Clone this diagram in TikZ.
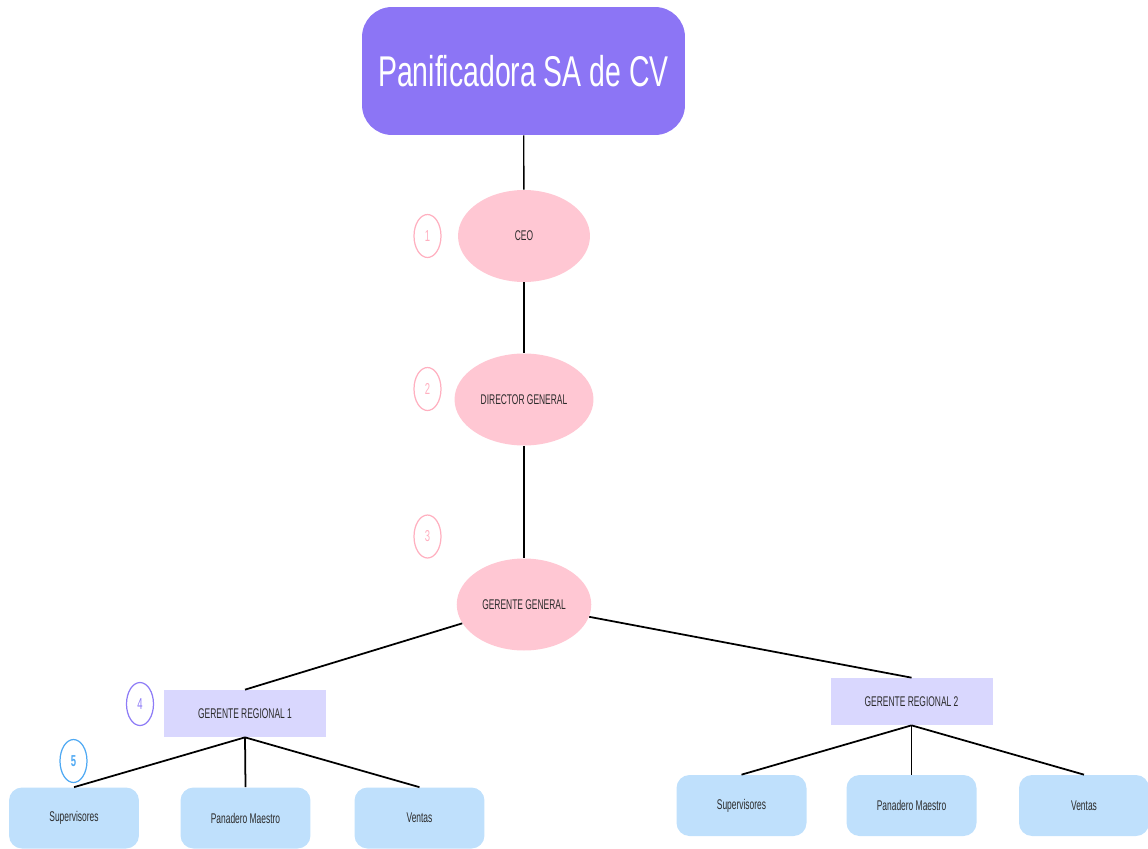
\documentclass[tikz,border=0pt]{standalone}
\usepackage{fontspec}
\usepackage{xcolor}
\usepackage{tikz}
\usetikzlibrary{shapes.geometric,positioning}

\setmainfont{Liberation Sans}
\newfontfamily\narrowfont[FakeStretch=0.6]{Liberation Sans}
\newfontfamily\bigfont[FakeStretch=0.66]{Liberation Sans}

\definecolor{titlepurple}{HTML}{8C75F5}
\definecolor{rosefill}{HTML}{FFC7D3}
\definecolor{roseline}{HTML}{FFB0C0}
\definecolor{lavender}{HTML}{D9D7FE}
\definecolor{skyfill}{HTML}{BFE0FC}
\definecolor{markpurple}{HTML}{8E7CF6}
\definecolor{markblue}{HTML}{4FA9F3}
\definecolor{labelgray}{HTML}{2B2B2B}

\begin{document}
\begin{tikzpicture}[
  x=0.02cm, y=-0.02cm,
  titlebox/.style={fill=titlepurple, rounded corners=0.6cm, minimum width=6.46cm, minimum height=2.56cm, text=white, font=\bigfont\fontsize{24.5}{28}\selectfont},
  rank/.style={ellipse, fill=rosefill, minimum width=2.64cm, minimum height=1.84cm, text=labelgray, font=\narrowfont\fontsize{8}{9.5}\selectfont},
  region/.style={fill=lavender, minimum width=3.24cm, minimum height=0.94cm, text=labelgray, font=\narrowfont\fontsize{8}{9.5}\selectfont},
  staff/.style={fill=skyfill, rounded corners=0.26cm, minimum width=2.6cm, minimum height=1.22cm, text=labelgray, font=\narrowfont\fontsize{8}{9.5}\selectfont},
  badge/.style={ellipse, draw=#1, line width=0.7pt, minimum width=0.54cm, minimum height=0.86cm, inner sep=0pt, text=#1, font=\narrowfont\fontsize{9}{10}\selectfont},
  link/.style={line width=1pt, black}
]
\useasboundingbox (0,0) rectangle (1148,848);

% Top: company
\node[titlebox] (panif) at (523.5,71) {Panificadora SA de CV};

% Direction chain
\node[rank] (ceo) at (524,236) {CEO};
\node[rank] (dirgen) at (524,399.5) {DIRECTOR GENERAL};
\node[rank] (gergen) at (524,604.5) {GERENTE GENERAL};

% Regional managers
\node[region] (reg1) at (245,713.5) {GERENTE REGIONAL 1};
\node[region] (reg2) at (911.5,701.5) {GERENTE REGIONAL 2};

% Staff under region 1
\node[staff] (sup1) at (74,818) {Supervisores};
\node[staff] (pan1) at (245.5,818) {Panadero Maestro};
\node[staff] (ven1) at (419.5,818) {Ventas};

% Staff under region 2
\node[staff] (sup2) at (741.5,805.5) {Supervisores};
\node[staff] (pan2) at (911.5,805.5) {Panadero Maestro};
\node[staff] (ven2) at (1084,805.5) {Ventas};

% Level markers
\node[badge=roseline] (n1) at (427.5,236) {1};
\node[badge=roseline] (n2) at (427.5,389) {2};
\node[badge=roseline] (n3) at (427.5,536.5) {3};
\node[badge=markpurple] (n4) at (140,704) {4};
\node[badge=markblue] (n5) at (73.5,761) {\textbf{5}};

\draw[link, line width=0.8pt] (panif) -- (ceo);
\draw[link] (ceo) -- (dirgen);
\draw[link] (dirgen) -- (gergen);

\draw[link] (gergen) -- (reg1.north);
\draw[link] (gergen) -- (reg2.north);

\draw[link] (reg1.south) -- (sup1.north);
\draw[link] (reg1.south) -- (pan1.north);
\draw[link] (reg1.south) -- (ven1.north);

\draw[link] (reg2.south) -- (sup2.north);
\draw[link] (reg2.south) -- (pan2.north);
\draw[link] (reg2.south) -- (ven2.north);

\end{tikzpicture}
\end{document}
